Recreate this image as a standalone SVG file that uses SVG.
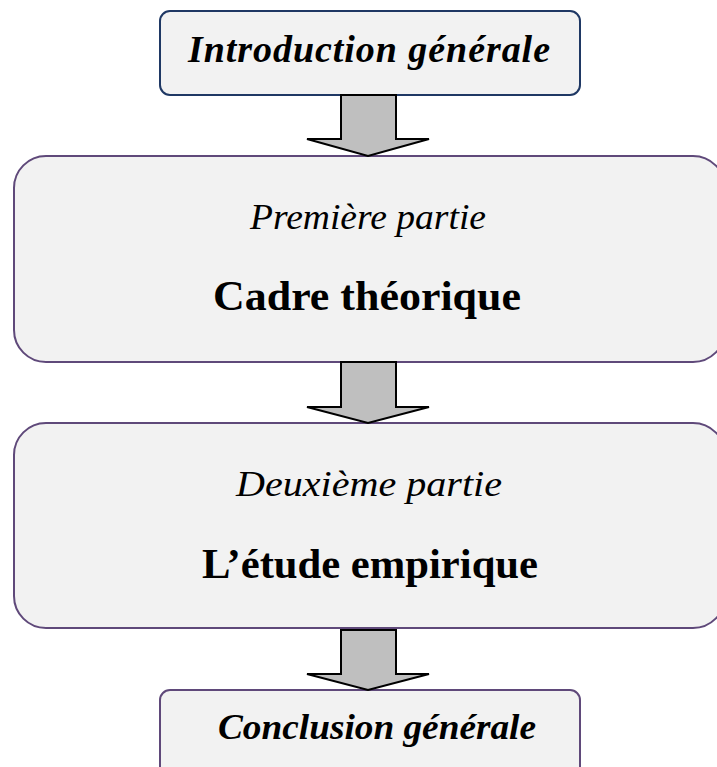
<svg xmlns="http://www.w3.org/2000/svg" width="717" height="767" viewBox="0 0 717 767">
  <style>
    .box { fill: #F2F2F2; stroke-width: 2; }
    .navy { stroke: #1F3864; }
    .purple { stroke: #5F497A; }
    .arrow { fill: #BFBFBF; stroke: #000000; stroke-width: 2; stroke-linejoin: miter; }
    .serif { font-family: "Liberation Serif", "Times New Roman", serif; fill: #000000; text-anchor: middle; }
    .bi { font-weight: bold; font-style: italic; }
    .it { font-style: italic; }
    .b { font-weight: bold; }
  </style>
  <rect width="717" height="767" fill="#FFFFFF"/>

  <g id="intro">
    <rect class="box navy" x="160" y="11" width="420" height="84" rx="10"/>
    <text class="serif bi" x="369" y="62" font-size="38" textLength="362" lengthAdjust="spacing">Introduction générale</text>
  </g>

  <g id="partie1">
    <rect class="box purple" x="14" y="156" width="711" height="206" rx="32"/>
    <text class="serif it" x="368" y="229" font-size="35" textLength="236" lengthAdjust="spacingAndGlyphs">Première partie</text>
    <text class="serif b" x="367" y="310" font-size="42" textLength="308" lengthAdjust="spacingAndGlyphs">Cadre théorique</text>
  </g>

  <g id="partie2">
    <rect class="box purple" x="14" y="423" width="711" height="205" rx="32"/>
    <text class="serif it" x="369" y="496" font-size="35" textLength="266" lengthAdjust="spacingAndGlyphs">Deuxième partie</text>
    <text class="serif b" x="370" y="578" font-size="42" textLength="336" lengthAdjust="spacingAndGlyphs">L’étude empirique</text>
  </g>

  <g id="conclusion">
    <rect class="box purple" x="160" y="690" width="420" height="110" rx="10"/>
    <text class="serif bi" x="377" y="739" font-size="35" textLength="318" lengthAdjust="spacingAndGlyphs">Conclusion générale</text>
  </g>

  <g id="connectors">
    <path class="arrow" d="M341,95 H396 V139 H429 L368,156 L307,139 H341 Z"/>
    <path class="arrow" d="M341,362 H396 V407 H429 L368,423 L307,407 H341 Z"/>
    <path class="arrow" d="M341,630 H396 V674 H429 L368,690 L307,674 H341 Z"/>
  </g>
</svg>
